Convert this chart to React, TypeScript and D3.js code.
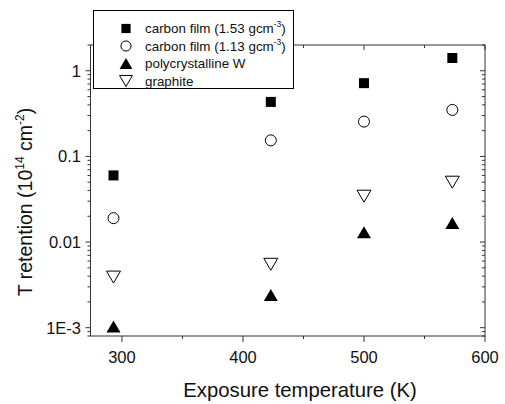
import * as d3 from "d3";

const temps = [293, 423, 500, 573];
const carbonFilm153 = [0.06, 0.433, 0.717, 1.41];
const carbonFilm113 = [0.019, 0.154, 0.255, 0.349];
const polyW = [0.00103, 0.00241, 0.013, 0.0167];
const graphite = [0.0039, 0.0055, 0.0343, 0.05];

const xMajor = [300, 400, 500, 600];
const xMinor = [350, 450, 550];
const yMajor = [0.001, 0.01, 0.1, 1];
const yLabels = ["1E-3", "0.01", "0.1", "1"];

const W = 505;
const H = 404;
const left = 90.5;
const right = 485;
const top = 45;
const bottom = 336;

const font = "Arial, 'Liberation Sans', Helvetica, sans-serif";

type Shape = "square" | "circle" | "up" | "down";

const series: { label: string; sup?: string; shape: Shape; values: number[] }[] = [
  { label: "carbon film (1.53 gcm", sup: "-3", shape: "square", values: carbonFilm153 },
  { label: "carbon film (1.13 gcm", sup: "-3", shape: "circle", values: carbonFilm113 },
  { label: "polycrystalline W", shape: "up", values: polyW },
  { label: "graphite", shape: "down", values: graphite },
];

function Marker({ shape, x, y, s = 1 }: { shape: Shape; x: number; y: number; s?: number }) {
  if (shape === "square") {
    const a = 10 * s;
    return <rect x={x - a / 2} y={y - a / 2} width={a} height={a} fill="#000" />;
  }
  if (shape === "circle") {
    return <circle cx={x} cy={y} r={5.5 * s} fill="#fff" stroke="#000" strokeWidth={1} />;
  }
  const w = 14 * s;
  const h = 12 * s;
  if (shape === "up") {
    return (
      <path
        d={`M${x},${y - h / 2}L${x + w / 2},${y + h / 2}L${x - w / 2},${y + h / 2}Z`}
        fill="#000"
      />
    );
  }
  return (
    <path
      d={`M${x - w / 2},${y - h / 2}L${x + w / 2},${y - h / 2}L${x},${y + h / 2}Z`}
      fill="#fff"
      stroke="#000"
      strokeWidth={1}
    />
  );
}

export default function App() {
  const x = d3.scaleLinear().domain([274, 600]).range([left, right]);
  const y = d3.scaleLog().domain([8e-4, 2]).range([bottom, top]);

  // minor log ticks 2..9 per decade inside the domain
  const yMinor: number[] = [];
  for (let e = -4; e <= 0; e++) {
    for (let m = 2; m <= 9; m++) {
      const v = m * Math.pow(10, e);
      if (v >= 8e-4 && v <= 2) yMinor.push(v);
    }
  }

  const stroke = "#333";

  return (
    <svg
      width={W}
      height={H}
      style={{ position: "absolute", left: 0, top: 0, background: "#fff" }}
      fontFamily={font}
    >
      {/* frame */}
      <rect
        x={left}
        y={top}
        width={right - left}
        height={bottom - top}
        fill="none"
        stroke={stroke}
        strokeWidth={1}
      />

      {/* y ticks left (outward) and right (inward) */}
      {yMajor.map((v) => (
        <g key={"ym" + v}>
          <line x1={left - 5} x2={left} y1={y(v)} y2={y(v)} stroke={stroke} />
          <line x1={right - 5} x2={right} y1={y(v)} y2={y(v)} stroke={stroke} />
        </g>
      ))}
      {yMinor.map((v) => (
        <g key={"yn" + v}>
          <line x1={left - 3} x2={left} y1={y(v)} y2={y(v)} stroke={stroke} />
          <line x1={right - 3} x2={right} y1={y(v)} y2={y(v)} stroke={stroke} />
        </g>
      ))}
      {yMajor.map((v, i) => (
        <text
          key={"yl" + v}
          x={81}
          y={y(v)}
          dy="0.36em"
          textAnchor="end"
          fontSize={16.5}
          fill="#111"
        >
          {yLabels[i]}
        </text>
      ))}

      {/* x ticks bottom (outward) and top (inward) */}
      {xMajor.map((v) => (
        <g key={"xm" + v}>
          <line x1={x(v)} x2={x(v)} y1={bottom} y2={bottom + 6} stroke={stroke} />
          <line x1={x(v)} x2={x(v)} y1={top} y2={top + 5} stroke={stroke} />
          <text x={x(v)} y={362.5} textAnchor="middle" fontSize={16.5} fill="#111">
            {v}
          </text>
        </g>
      ))}
      {xMinor.map((v) => (
        <g key={"xn" + v}>
          <line x1={x(v)} x2={x(v)} y1={bottom} y2={bottom + 3} stroke={stroke} />
          <line x1={x(v)} x2={x(v)} y1={top} y2={top + 3} stroke={stroke} />
        </g>
      ))}

      {/* axis titles */}
      <text x={300} y={396.5} textAnchor="middle" fontSize={20.3} fill="#111">
        Exposure temperature (K)
      </text>
      <text
        transform="translate(32,202) rotate(-90)"
        textAnchor="middle"
        fontSize={19.5}
        fill="#111"
      >
        T retention (10
        <tspan fontSize={12} dy={-8}>
          14
        </tspan>
        <tspan dy={8}> cm</tspan>
        <tspan fontSize={12} dy={-8}>
          -2
        </tspan>
        <tspan dy={8}>)</tspan>
      </text>

      {/* data */}
      {series.map((s) =>
        s.values.map((v, i) => (
          <Marker key={s.shape + i} shape={s.shape} x={x(temps[i])} y={y(v)} />
        ))
      )}

      {/* legend */}
      <rect x={93.5} y={10.5} width={200} height={78} fill="#fff" stroke="#000" strokeWidth={1} />
      {series.map((s, i) => {
        const ly = 28.5 + i * 17.5;
        return (
          <g key={"lg" + i}>
            <Marker shape={s.shape} x={126} y={ly} s={0.92} />
            <text x={145} y={ly} dy="0.36em" fontSize={13.4} fill="#111">
              {s.label}
              {s.sup && (
                <>
                  <tspan fontSize={8.5} dy={-6}>
                    {s.sup}
                  </tspan>
                  <tspan dy={6}>)</tspan>
                </>
              )}
            </text>
          </g>
        );
      })}
    </svg>
  );
}
